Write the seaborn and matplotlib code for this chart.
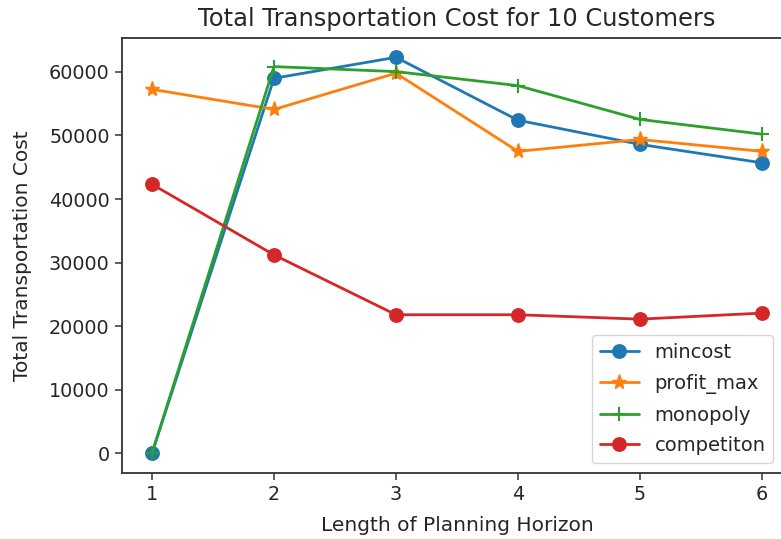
import matplotlib
matplotlib.use("Agg")
import matplotlib.pyplot as plt
import seaborn as sns

# Length of planning horizon (periods)
horizon = [1, 2, 3, 4, 5, 6]

# Total transportation cost per strategy
mincost = [0, 59000, 62300, 52400, 48600, 45700]
profit_max = [57260, 54100, 59800, 47500, 49370, 47500]
monopoly = [0, 60840, 60050, 57840, 52530, 50210]
competition = [42320, 31210, 21790, 21790, 21100, 22050]

series_names = ["mincost", "profit_max", "monopoly", "competiton"]
series_values = [mincost, profit_max, monopoly, competition]
series_markers = ["o", "*", "+", "o"]
series_colors = ["#1f77b4", "#ff7f0e", "#2ca02c", "#d62728"]
marker_sizes = {"o": 9.5, "*": 11, "+": 10.5}
marker_edges = {"o": 1.2, "*": 1.0, "+": 1.5}

sns.set_style("ticks")
plt.rcParams["font.family"] = ["DejaVu Sans"]
plt.rcParams["font.size"] = 14

fig = plt.figure(figsize=(7.81, 5.39), dpi=100)
ax = fig.add_axes([0.1556, 0.1224, 0.859, 0.808])

for name, vals, mk, col in zip(series_names, series_values, series_markers, series_colors):
    sns.lineplot(
        x=horizon, y=vals, ax=ax, label=name, color=col,
        marker=mk, markersize=marker_sizes[mk],
        markeredgecolor=col, markerfacecolor=col,
        markeredgewidth=marker_edges[mk], linewidth=2.0,
    )

ax.set_title("Total Transportation Cost for 10 Customers", fontsize=17.4, pad=8)
ax.set_xlabel("Length of Planning Horizon", fontsize=14.5, labelpad=9)
ax.set_ylabel("Total Transportation Cost", fontsize=14.5, labelpad=12)
ax.set_xticks(horizon)
ax.set_yticks([0, 10000, 20000, 30000, 40000, 50000, 60000])
ax.tick_params(labelsize=13.8, length=5, width=1.1, color="#333333")
for s in ax.spines.values():
    s.set_linewidth(1.3)
    s.set_color("#333333")

ax.legend(loc="lower right", bbox_to_anchor=(0.990, 0.141),
          bbox_transform=fig.transFigure, borderaxespad=0,
          fontsize=14, frameon=True, framealpha=0.8, edgecolor="#cccccc",
          fancybox=True, labelspacing=0.6)

fig.savefig("out.png", dpi=100)
